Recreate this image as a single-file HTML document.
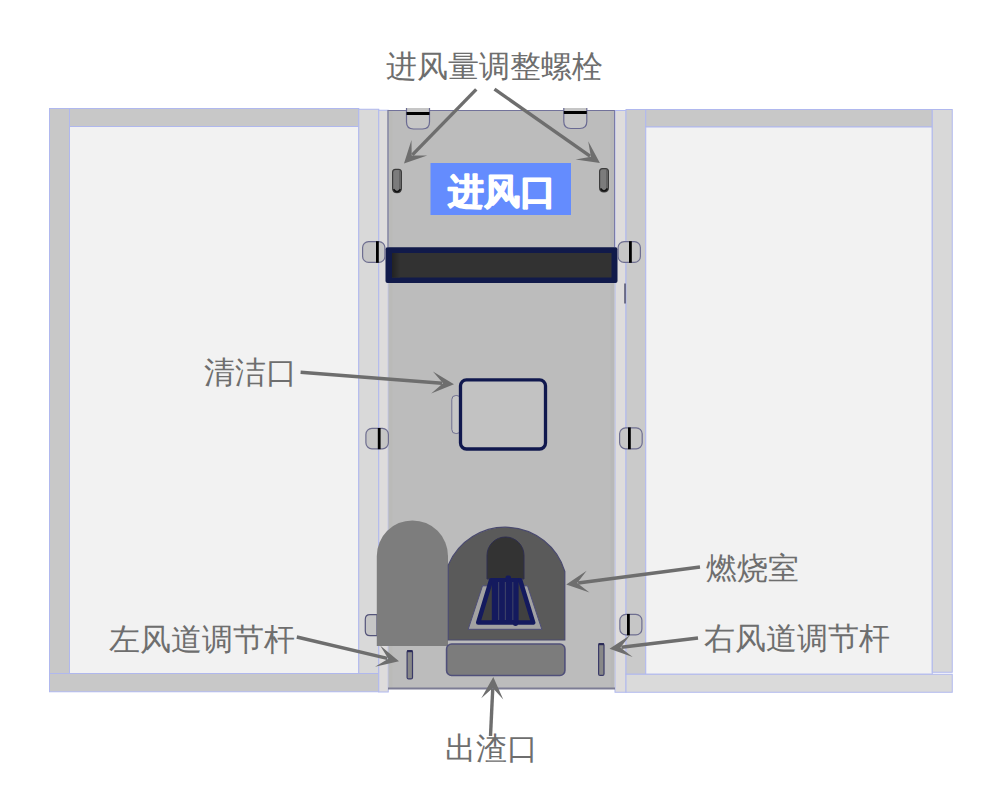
<!DOCTYPE html>
<html><head><meta charset="utf-8"><style>html,body{margin:0;padding:0;background:#fff;width:1000px;height:800px;overflow:hidden;font-family:"Liberation Sans",sans-serif}svg{display:block}</style></head>
<body><svg width="1000" height="800" viewBox="0 0 1000 800">
<rect x="49.5" y="108.5" width="20" height="565" fill="#c8c8c8" stroke="#b0b8ee" stroke-width="1"/>
<rect x="69.5" y="108.5" width="289.25" height="18" fill="#c8c8c8" stroke="#b0b8ee" stroke-width="1"/>
<rect x="69.5" y="126.5" width="289.25" height="547" fill="#f2f2f2" stroke="#b0b8ee" stroke-width="1"/>
<rect x="358.75" y="109.25" width="20" height="564.25" fill="#d9d9d9" stroke="#b0b8ee" stroke-width="1"/>
<rect x="49.5" y="673.5" width="329.25" height="18.25" fill="#c8c8c8" stroke="#b0b8ee" stroke-width="1"/>
<rect x="378.75" y="110.25" width="9.5" height="581.75" fill="#dedcdc" stroke="#b0b8ee" stroke-width="1"/>
<rect x="615" y="110.5" width="11" height="581.75" fill="#dedcdc" stroke="#b0b8ee" stroke-width="1"/>
<rect x="626" y="109.5" width="19.75" height="564.75" fill="#cacaca" stroke="#b0b8ee" stroke-width="1"/>
<rect x="645.75" y="109.5" width="286.5" height="17.5" fill="#c8c8c8" stroke="#b0b8ee" stroke-width="1"/>
<rect x="645.75" y="127" width="286.5" height="547.25" fill="#f2f2f2" stroke="#b0b8ee" stroke-width="1"/>
<rect x="932.25" y="109.5" width="20" height="562.75" fill="#d8d8d8" stroke="#b0b8ee" stroke-width="1"/>
<rect x="626" y="674.25" width="326.25" height="18" fill="#dadada" stroke="#b0b8ee" stroke-width="1"/>
<rect x="388.5" y="110.5" width="226" height="578.25" fill="#bcbcbc"/>
<rect x="388.5" y="110.5" width="4" height="578.25" fill="#b8b8b4" opacity="0.5"/>
<rect x="610.5" y="110.5" width="4" height="578.25" fill="#b4b4b4" opacity="0.5"/>
<line x1="388" y1="110.5" x2="614.5" y2="110.5" stroke="#72729a" stroke-width="1.2"/>
<line x1="388" y1="688.6" x2="615" y2="688.6" stroke="#7c7c94" stroke-width="2"/>
<line x1="388" y1="110" x2="388" y2="247" stroke="#7a7a96" stroke-width="1.3"/>
<line x1="614.5" y1="110" x2="614.5" y2="247" stroke="#7a7aa6" stroke-width="1"/>
<path d="M406.5 108 V122 Q406.5 129 413.5 129 H422.5 Q429.5 129 429.5 122 V108" fill="#c6c6c6" stroke="#6a6a92" stroke-width="1.2"/>
<rect x="406.5" y="112" width="23" height="3" fill="#000"/>
<path d="M563.8 108 V121.5 Q563.8 128.5 570.8 128.5 H579.8 Q586.8 128.5 586.8 121.5 V108" fill="#c6c6c6" stroke="#6a6a92" stroke-width="1.2"/>
<rect x="563.8" y="111" width="23" height="3" fill="#000"/>
<path d="M392.6 172.25 Q392.6 169.35 395.5 169.35 H398.5 Q401.4 169.35 401.4 172.25 V188.25 Q401.4 192.65 397 192.65 Q392.6 192.65 392.6 188.25 Z" fill="#7c7c7c" stroke="#3c3c3c" stroke-width="1.2"/>
<line x1="399.8" y1="170.75" x2="399.8" y2="190.25" stroke="#505050" stroke-width="0.8"/>
<path d="M393.5 189.25 Q397 194.25 400.5 189.25" fill="none" stroke="#111" stroke-width="1.6"/>
<path d="M599.6 171.5 Q599.6 168.6 602.5 168.6 H605.5 Q608.4 168.6 608.4 171.5 V187.5 Q608.4 191.9 604 191.9 Q599.6 191.9 599.6 187.5 Z" fill="#7c7c7c" stroke="#3c3c3c" stroke-width="1.2"/>
<line x1="606.8" y1="170" x2="606.8" y2="189.5" stroke="#505050" stroke-width="0.8"/>
<path d="M600.5 188.5 Q604 193.5 607.5 188.5" fill="none" stroke="#111" stroke-width="1.6"/>
<rect x="430.5" y="163" width="140.5" height="52" fill="#648cfe"/>
<text x="448" y="204" font-family="Liberation Sans" font-size="36" font-weight="bold" fill="#fff" stroke="#fff" stroke-width="1.4" stroke-linejoin="round">进风口</text>
<rect x="385.5" y="247.2" width="232" height="35.8" rx="2" fill="#111a4a"/>
<rect x="392" y="253" width="219.5" height="24.5" fill="#323232"/>
<defs><linearGradient id="gl" x1="0" x2="1"><stop offset="0" stop-color="#222"/><stop offset="1" stop-color="#323232"/></linearGradient></defs>
<rect x="392" y="253" width="8" height="24.5" fill="url(#gl)"/>
<line x1="625" y1="283.5" x2="625" y2="303.5" stroke="#303050" stroke-width="1.2"/>
<rect x="362.6" y="241.6" width="22.3" height="20.8" rx="6" fill="#c6c6c6" stroke="#6e6e90" stroke-width="1.2"/>
<rect x="376" y="241.2" width="2.8" height="21.6" fill="#000"/>
<rect x="618.1" y="241.6" width="22.3" height="20.8" rx="6" fill="#c6c6c6" stroke="#6e6e90" stroke-width="1.2"/>
<rect x="629" y="241.2" width="2.8" height="21.6" fill="#000"/>
<rect x="365.90000000000003" y="428.40000000000003" width="22.49999999999999" height="20.399999999999967" rx="6" fill="#c6c6c6" stroke="#6e6e90" stroke-width="1.2"/>
<rect x="377.8" y="428.0" width="2.8" height="21.199999999999967" fill="#000"/>
<rect x="619.6" y="427.8" width="22.599999999999955" height="20.99999999999999" rx="6" fill="#c6c6c6" stroke="#6e6e90" stroke-width="1.2"/>
<rect x="628" y="427.4" width="2.8" height="21.79999999999999" fill="#000"/>
<rect x="619.85" y="614.35" width="22.05" height="20.55" rx="6" fill="#c6c6c6" stroke="#6e6e90" stroke-width="1.2"/>
<rect x="627" y="613.95" width="2.8" height="21.35" fill="#000"/>
<rect x="451.8" y="395.5" width="9" height="38" rx="4" fill="#c6c6c6" stroke="#6e6e90" stroke-width="1"/>
<rect x="460.5" y="379.8" width="85" height="69.2" rx="6" fill="#c2c2c2" stroke="#10184e" stroke-width="3.3"/>
<path d="M377 614.7 H370 Q365.3 614.7 365.3 619.5 V631 Q365.3 635.7 370 635.7 H377 Z" fill="#c6c6c6" stroke="#55557a" stroke-width="1.2"/>
<path d="M376.8 645.9 V556 A35.6 35.6 0 0 1 448 556 V645.9 Z" fill="#7d7d7d"/>
<path d="M448.3 640 V565 A62 62 0 0 1 564.8 571.5 V640 Z" fill="#5a5a5a" stroke="#4a4a6e" stroke-width="1.2"/>
<path d="M487 579 V555.5 A18.5 18.5 0 0 1 524 555.5 V579 Z" fill="#333333" stroke="#2e2e50" stroke-width="1"/>
<polygon points="482.5,585.8 527.5,585.8 541.8,629.3 468.2,629.3" fill="#a2a2a2" stroke="#4e4e78" stroke-width="1"/>
<polygon points="491.0,580.35 520.3,580.35 533.2,622.6 478.2,622.6" fill="#404040" stroke="#141a5e" stroke-width="4.5" stroke-linejoin="round"/>
<rect x="491.8" y="578" width="26.8" height="46" fill="#141a5e"/>
<rect x="505.5" y="575.5" width="5.5" height="5" rx="2" fill="#141a5e"/>
<rect x="513" y="621" width="5" height="5" rx="2.5" fill="#141a5e"/>
<rect x="498" y="582" width="1.2" height="38" fill="#3a3f66"/>
<rect x="504.8" y="582" width="1.2" height="38" fill="#3a3f66"/>
<rect x="512.2" y="582" width="1.2" height="38" fill="#3a3f66"/>
<rect x="446.6" y="644" width="118.3" height="31.5" rx="5" fill="#7c7c7c" stroke="#50507a" stroke-width="1.6"/>
<rect x="407.1" y="650.6" width="5.4" height="28.3" rx="1.5" fill="#888888" stroke="#3a3a68" stroke-width="1.2"/>
<rect x="407.1" y="650.2" width="5.4" height="2" fill="#2a2a55"/>
<rect x="598.6" y="643.6" width="5.4" height="31.8" rx="1.5" fill="#888888" stroke="#3a3a68" stroke-width="1.2"/>
<rect x="598.6" y="643.2" width="5.4" height="2" fill="#2a2a55"/>
<text x="386" y="77.2" font-family="Liberation Sans" font-size="31" fill="#6e6e6e">进风量调整螺栓</text>
<text x="204" y="382.5" font-family="Liberation Sans" font-size="31" fill="#6e6e6e">清洁口</text>
<text x="706" y="578.5" font-family="Liberation Sans" font-size="31" fill="#6e6e6e">燃烧室</text>
<text x="108.5" y="649.5" font-family="Liberation Sans" font-size="31" fill="#6e6e6e">左风道调节杆</text>
<text x="703.7" y="648.7" font-family="Liberation Sans" font-size="31" fill="#6e6e6e">右风道调节杆</text>
<text x="444.5" y="758.5" font-family="Liberation Sans" font-size="31" fill="#6e6e6e">出渣口</text>
<line x1="476.25" y1="89.40" x2="412.38" y2="154.91" stroke="#6e6e6e" stroke-width="3.4"/><polygon points="404.00,163.50 411.48,140.07 411.68,155.62 427.23,155.43" fill="#6e6e6e"/>
<line x1="494.50" y1="89.10" x2="590.07" y2="156.11" stroke="#6e6e6e" stroke-width="3.4"/><polygon points="599.90,163.00 575.57,159.38 590.89,156.69 588.20,141.36" fill="#6e6e6e"/>
<line x1="300.60" y1="372.20" x2="442.04" y2="383.26" stroke="#6e6e6e" stroke-width="3.4"/><polygon points="454.00,384.20 431.21,393.45 443.03,383.34 432.92,371.52" fill="#6e6e6e"/>
<line x1="700.00" y1="567.00" x2="578.15" y2="582.94" stroke="#6e6e6e" stroke-width="3.4"/><polygon points="566.25,584.50 586.64,570.74 577.16,583.07 589.49,592.55" fill="#6e6e6e"/>
<line x1="296.80" y1="637.00" x2="387.32" y2="658.43" stroke="#6e6e6e" stroke-width="3.4"/><polygon points="399.00,661.20 375.06,666.83 388.30,658.67 380.13,645.43" fill="#6e6e6e"/>
<line x1="698.00" y1="638.00" x2="621.41" y2="647.30" stroke="#6e6e6e" stroke-width="3.4"/><polygon points="609.50,648.75 630.01,635.18 620.42,647.42 632.67,657.02" fill="#6e6e6e"/>
<line x1="490.50" y1="736.00" x2="492.73" y2="688.89" stroke="#6e6e6e" stroke-width="3.4"/><polygon points="493.30,676.90 503.25,699.40 492.78,687.89 481.27,698.35" fill="#6e6e6e"/>
</svg></body></html>
